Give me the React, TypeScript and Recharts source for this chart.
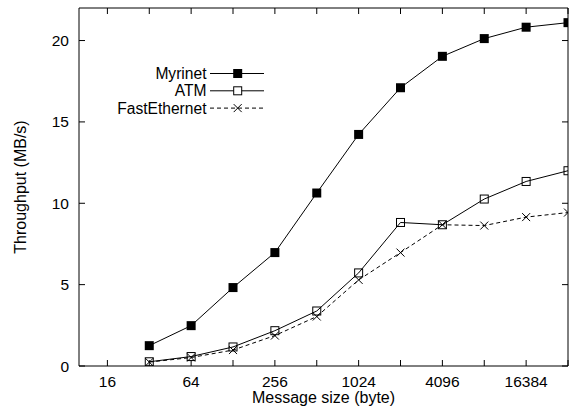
import React from 'react';
import { LineChart, Line, XAxis, YAxis, Legend } from 'recharts';

const SIZES = [32, 64, 128, 256, 512, 1024, 2048, 4096, 8192, 16384, 32768];
const MYRINET = [1.25, 2.48, 4.82, 6.97, 10.63, 14.23, 17.1, 19.03, 20.12, 20.82, 21.1];
const ATM = [0.26, 0.58, 1.17, 2.17, 3.38, 5.72, 8.82, 8.68, 10.26, 11.34, 12.0];
const FAST = [0.24, 0.52, 0.98, 1.87, 3.04, 5.29, 6.97, 8.68, 8.63, 9.15, 9.43];

const X_TICKS = [16, 32, 64, 128, 256, 512, 1024, 2048, 4096, 8192, 16384, 32768];
const X_LABELS = [16, 64, 256, 1024, 4096, 16384];
const Y_TICKS = [0, 5, 10, 15, 20];
const SERIES_NAMES = ['Myrinet', 'ATM', 'FastEthernet'];

const data = SIZES.map((s, i) => ({ size: s, myrinet: MYRINET[i], atm: ATM[i], fast: FAST[i] }));

const FONT = '"Liberation Sans", Arial, Helvetica, sans-serif';
const tickStyle = { fill: '#000', fontSize: 15.5, fontFamily: FONT };

const FilledSquare = (props: any) => {
  const { cx, cy, index } = props;
  return <rect key={`m${index}`} x={cx - 4.5} y={cy - 4.5} width={9} height={9} fill="#000" />;
};
const OpenSquare = (props: any) => {
  const { cx, cy, index } = props;
  return <rect key={`a${index}`} x={cx - 4} y={cy - 4} width={8} height={8} fill="none" stroke="#000" strokeWidth={1} />;
};
const Cross = (props: any) => {
  const { cx, cy, index } = props;
  return (
    <path key={`f${index}`} d={`M${cx - 4},${cy - 4}L${cx + 4},${cy + 4}M${cx - 4},${cy + 4}L${cx + 4},${cy - 4}`} stroke="#000" strokeWidth={1} fill="none" />
  );
};

const LegendContent = () => {
  const rows = [12.5, 29.8, 47.1];
  const tx = 106.5;
  const l1 = 110;
  const l2 = 164;
  const mx = 137.7;
  return (
    <svg width={170} height={60} style={{ display: 'block' }}>
      {SERIES_NAMES.map((name, i) => (
        <g key={name}>
          <text x={tx} y={rows[i]} textAnchor="end" dominantBaseline="central" fontSize={15.6} fontFamily={FONT} fill="#000">
            {name}
          </text>
          <line x1={l1} x2={l2} y1={rows[i]} y2={rows[i]} stroke="#000" strokeWidth={1} strokeDasharray={i === 2 ? '4 3' : undefined} />
          {i === 0 && <rect x={mx - 4.5} y={rows[i] - 4.5} width={9} height={9} fill="#000" />}
          {i === 1 && <rect x={mx - 4} y={rows[i] - 4} width={8} height={8} fill="#fff" stroke="#000" />}
          {i === 2 && (
            <path d={`M${mx - 4},${rows[i] - 4}L${mx + 4},${rows[i] + 4}M${mx - 4},${rows[i] + 4}L${mx + 4},${rows[i] - 4}`} stroke="#000" fill="none" />
          )}
        </g>
      ))}
    </svg>
  );
};

const YLabel = (props: any) => {
  const vb = props.viewBox || { x: 0, y: 8, width: 79, height: 358 };
  const cx = 20;
  const cy = vb.y + vb.height / 2;
  return (
    <text x={cx} y={cy} transform={`rotate(-90, ${cx}, ${cy})`} textAnchor="middle" dominantBaseline="central" fontSize={16} fontFamily={FONT} fill="#000">
      Throughput (MB/s)
    </text>
  );
};

export default function App() {
  return (
    <div style={{ position: 'absolute', left: 0, top: 0, width: 570, height: 412, background: '#fff', fontFamily: FONT }}>
      <LineChart width={570} height={412} data={data} margin={{ top: 0, right: 0, bottom: 0, left: 0 }}>
        <XAxis
          dataKey="size"
          type="number"
          scale="log"
          domain={[10, 32768]}
          allowDataOverflow
          ticks={X_TICKS}
          tickFormatter={(v: number) => (X_LABELS.includes(v) ? String(v) : '')}
          tickSize={-6}
          tickMargin={16}
          height={46}
          interval={0}
          tick={tickStyle}
          axisLine={{ stroke: '#000', strokeWidth: 1 }}
          tickLine={{ stroke: '#000' }}
          label={{ value: 'Message size (byte)', position: 'insideBottom', offset: 9, fill: '#000', fontSize: 16, fontFamily: FONT }}
        />
        <XAxis
          xAxisId="top"
          orientation="top"
          dataKey="size"
          type="number"
          scale="log"
          domain={[10, 32768]}
          allowDataOverflow
          ticks={X_TICKS}
          tickFormatter={() => ''}
          tickSize={-6}
          height={8}
          interval={0}
          axisLine={{ stroke: '#000', strokeWidth: 1 }}
          tickLine={{ stroke: '#000' }}
        />
        <YAxis
          type="number"
          domain={[0, 22]}
          allowDataOverflow
          ticks={Y_TICKS}
          tickSize={-6}
          tickMargin={16}
          width={79}
          interval={0}
          tick={tickStyle}
          axisLine={{ stroke: '#000', strokeWidth: 1 }}
          tickLine={{ stroke: '#000' }}
          label={<YLabel />}
        />
        <YAxis
          yAxisId="right"
          orientation="right"
          type="number"
          domain={[0, 22]}
          allowDataOverflow
          ticks={Y_TICKS}
          tickFormatter={() => ''}
          tickSize={-6}
          width={2}
          interval={0}
          axisLine={{ stroke: '#000', strokeWidth: 1 }}
          tickLine={{ stroke: '#000' }}
        />
        <Legend
          layout="horizontal"
          verticalAlign="middle"
          align="center"
          content={<LegendContent />}
          wrapperStyle={{ position: 'absolute', left: 100, top: 61, width: 170, height: 60 }}
        />
        <Line dataKey="myrinet" name="Myrinet" stroke="#000" strokeWidth={1} dot={FilledSquare} activeDot={false} isAnimationActive={false} />
        <Line dataKey="atm" name="ATM" stroke="#000" strokeWidth={1} dot={OpenSquare} activeDot={false} isAnimationActive={false} />
        <Line dataKey="fast" name="FastEthernet" stroke="#000" strokeWidth={1} strokeDasharray="4 3" dot={Cross} activeDot={false} isAnimationActive={false} />
      </LineChart>
    </div>
  );
}
